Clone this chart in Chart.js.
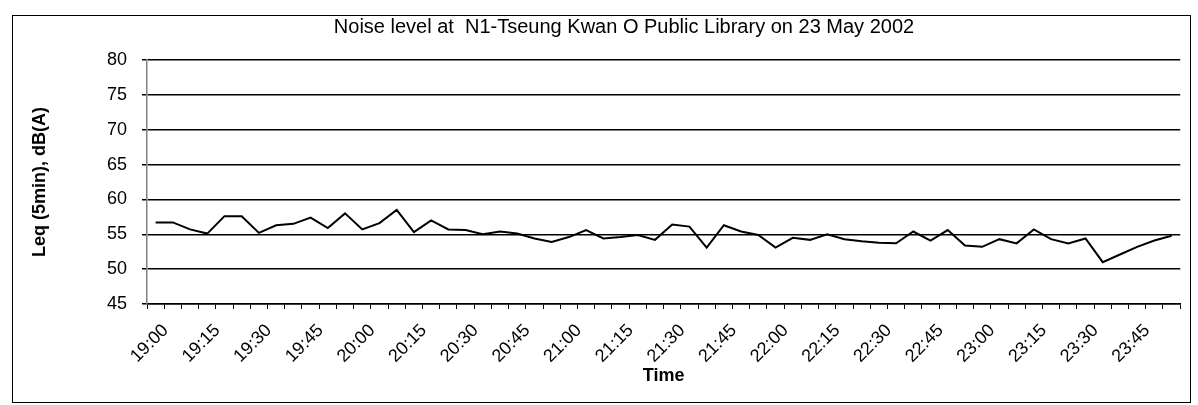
<!DOCTYPE html>
<html>
<head>
<meta charset="utf-8">
<script src="https://cdn.jsdelivr.net/npm/chart.js@4/dist/chart.umd.min.js"></script>
<style>
  body { margin: 0; background: #fff; }
  #wrap { position: relative; width: 1198px; height: 405px; }
  #frame { position: absolute; left: 12px; top: 15px; width: 1177px; height: 386px; border: 1px solid #000; pointer-events: none; }
</style>
</head>
<body>
<div id="wrap">
  <canvas id="noiseChart" width="1198" height="405"></canvas>
  <div id="frame"></div>
</div>
<script>
const categories = [
  '19:00', '19:05', '19:10', '19:15', '19:20', '19:25', '19:30', '19:35', '19:40', '19:45', '19:50', '19:55',
  '20:00', '20:05', '20:10', '20:15', '20:20', '20:25', '20:30', '20:35', '20:40', '20:45', '20:50', '20:55',
  '21:00', '21:05', '21:10', '21:15', '21:20', '21:25', '21:30', '21:35', '21:40', '21:45', '21:50', '21:55',
  '22:00', '22:05', '22:10', '22:15', '22:20', '22:25', '22:30', '22:35', '22:40', '22:45', '22:50', '22:55',
  '23:00', '23:05', '23:10', '23:15', '23:20', '23:25', '23:30', '23:35', '23:40', '23:45', '23:50', '23:55'
]

const leq = [
  56.7, 56.7, 55.7, 55.1, 57.6, 57.6, 55.2, 56.3, 56.5, 57.4, 55.9, 58.0,
  55.7, 56.6, 58.5, 55.3, 57.0, 55.7, 55.6, 55.0, 55.4, 55.1, 54.4, 53.9,
  54.6, 55.6, 54.4, 54.6, 54.9, 54.2, 56.4, 56.1, 53.1, 56.3, 55.4, 54.9,
  53.1, 54.5, 54.2, 55.0, 54.3, 54.0, 53.8, 53.7, 55.4, 54.1, 55.6, 53.4,
  53.2, 54.3, 53.7, 55.7, 54.3, 53.7, 54.4, 51.0, 52.1, 53.2, 54.1, 54.8
]

// only every third time is written under the axis
const labelEvery = 3

const font = "'Liberation Sans', Arial, sans-serif"

const ctx = document.getElementById('noiseChart')
const noiseChart = new Chart(ctx, {
  type: 'line',
  data: {
    labels: categories,
    datasets: [{
      label: 'Leq (5min)',
      data: leq,
      borderColor: '#000',
      borderWidth: 2,
      pointRadius: 0,
      tension: 0,
      fill: false
    }]
  },
  options: {
    responsive: false,
    animation: false,
    layout: { padding: { left: 64, right: 14, top: 0, bottom: 0 } },
    plugins: {
      legend: { display: false },
      tooltip: { enabled: false },
      title: {
        display: true,
        text: 'Noise level at  N1-Tseung Kwan O Public Library on 23 May 2002',
        color: '#000',
        font: { family: font, size: 20, weight: 'normal' },
        padding: { top: 15, bottom: 21 }
      }
    },
    scales: {
      x: {
        type: 'category',
        offset: true,
        afterFit: (scale) => { scale.height = 101 },
        grid: { display: true, drawOnChartArea: false, offset: true, tickLength: 5, color: '#000', lineWidth: 1 },
        border: { display: true, color: '#000', width: 1.5 },
        ticks: {
          autoSkip: false,
          maxRotation: 45,
          minRotation: 45,
          padding: 11,
          labelOffset: 10,
          color: '#000',
          font: { family: font, size: 18 },
          callback: (value, index) => index % labelEvery === 0 ? categories[index] : ''
        },
        title: {
          display: true,
          text: 'Time',
          color: '#000',
          font: { family: font, size: 18, weight: 'bold' },
          padding: { top: 0, bottom: 18 }
        }
      },
      y: {
        min: 45,
        max: 80,
        afterFit: (scale) => { scale.width = 83 },
        grid: { color: '#000', lineWidth: 1.5, tickLength: 5 },
        border: { display: true, color: '#808080', width: 1.5 },
        ticks: {
          stepSize: 5,
          padding: 15,
          color: '#000',
          font: { family: font, size: 18 }
        },
        title: {
          display: true,
          text: 'Leq (5min), dB(A)',
          color: '#000',
          font: { family: font, size: 18, weight: 'bold' },
          padding: { top: -35, bottom: 0 }
        }
      }
    }
  }
});
</script>
</body>
</html>
